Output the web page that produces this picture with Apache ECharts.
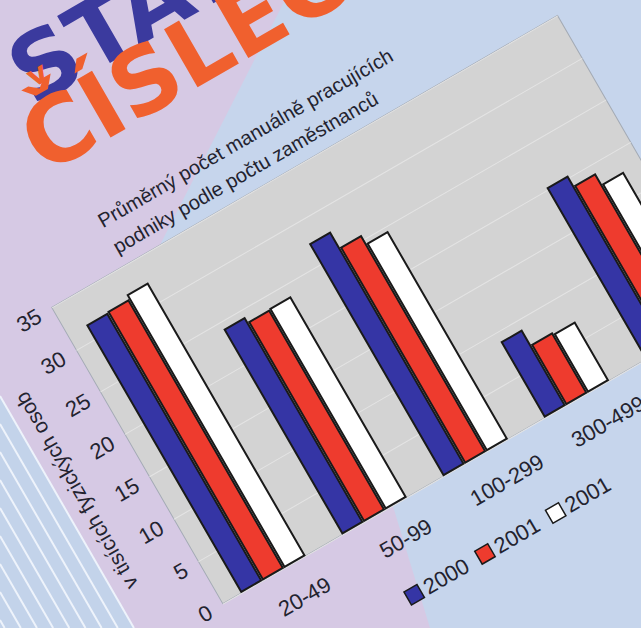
<!DOCTYPE html>
<html>
<head>
<meta charset="utf-8">
<script src="https://cdn.jsdelivr.net/npm/echarts@6/dist/echarts.min.js"></script>
<style>
html, body { margin: 0; padding: 0; width: 641px; height: 628px; overflow: hidden; background: #c6d5ec; }
#bg { position: absolute; left: 0; top: 0; width: 641px; height: 628px; }
/* the page is printed at an angle: the whole chart is turned 30deg */
#chart { position: absolute; left: -150.2px; top: 259.9px; width: 780px; height: 610px; transform-origin: 0 0; transform: rotate(-30deg); }
</style>
</head>
<body>
<div id="bg"></div>
<div id="chart"></div>
<script>
const categories = ['20-49', '50-99', '100-299', '300-499', '500 a více'];
const seriesKeys = ['s2000', 's2001a', 's2001b'];
const seriesLabels = ['2000', '2001', '2001'];
const values2000 = [31.7, 24.3, 27.5, 9.0, 20.3];
const values2001 = [31.8, 23.7, 25.6, 7.2, 19.1];
const values2001b = [32.3, 23.8, 24.6, 7.0, 17.8];
const yTicks = [0, 5, 10, 15, 20, 25, 30, 35];

const textColor = '#23232f';
const font = 'Liberation Sans, Arial, sans-serif';

// background of the magazine page
const bgChart = echarts.init(document.getElementById('bg'), null, { renderer: 'svg' });
const stripes = [];
for (let k = 0; k < 9; k++) {
  const a = -198 - 14 * k;
  stripes.push({
    type: 'line',
    shape: { x1: 0, y1: -2 * a, x2: (314 + a) / 0.866, y2: 628 },
    style: { stroke: '#eef3fb', lineWidth: 2 }
  });
}
bgChart.setOption({
  graphic: [
    { type: 'rect', shape: { x: 0, y: 0, width: 641, height: 628 }, style: { fill: '#c6d5ec' } },
    { type: 'polygon', shape: { points: [[0, 0], [285, 0], [160, 245], [385, 480], [430, 628], [0, 628]] }, style: { fill: '#d6c9e4' } },
    { type: 'polygon', shape: { points: [[0, 396], [134, 628], [0, 628]] }, style: { fill: '#c3d3ea' } },
    ...stripes,
    {
      type: 'text', x: 40, y: 120, rotation: Math.PI / 6,
      style: { text: 'STAT', fill: '#3b3a9e', fontSize: 92, fontWeight: 'bold', fontFamily: 'DejaVu Sans', textAlign: 'left', textVerticalAlign: 'bottom' }
    },
    {
      type: 'text', x: 52, y: 188, rotation: Math.PI / 6,
      style: { text: 'ČÍSLECH', fill: '#f0602e', fontSize: 92, fontWeight: 'bold', fontFamily: 'DejaVu Sans', textAlign: 'left', textVerticalAlign: 'bottom' }
    },
    {
      type: 'text', x: 36, y: 92, rotation: Math.PI / 6,
      style: { text: 'v', fill: '#f0602e', fontSize: 30, fontWeight: 'bold', fontFamily: 'DejaVu Sans', textAlign: 'left', textVerticalAlign: 'bottom' }
    }
  ]
});

const chart = echarts.init(document.getElementById('chart'), null, { renderer: 'svg' });
const seriesValues = [values2000, values2001, values2001b];
const seriesColors = ['#3535a5', '#ee3b2e', '#ffffff'];

const option = {
  animation: false,
  textStyle: { fontFamily: font, color: textColor },
  title: {
    text: 'Průměrný počet manuálně pracujících\npodniky podle počtu zaměstnanců',
    left: 230,
    top: 72,
    textStyle: { fontSize: 20, fontWeight: 'normal', color: textColor, lineHeight: 30, fontFamily: font }
  },
  legend: {
    data: seriesKeys,
    left: 308,
    top: 556,
    icon: 'rect',
    itemWidth: 15,
    itemHeight: 15,
    itemGap: 12,
    itemStyle: { borderColor: '#1a1a1a', borderWidth: 1.5 },
    textStyle: { fontSize: 22, color: textColor, fontFamily: font },
    formatter: name => seriesLabels[seriesKeys.indexOf(name)]
  },
  grid: {
    left: 151,
    top: 142,
    width: 584,
    height: 342,
    show: true,
    backgroundColor: '#d3d3d3',
    borderColor: '#a4abb5',
    borderWidth: 1
  },
  xAxis: {
    type: 'category',
    data: categories,
    axisLine: { show: false },
    axisTick: { show: false },
    axisLabel: { interval: 0, fontSize: 22, margin: 24, color: textColor, padding: [0, 0, 0, 32] }
  },
  yAxis: {
    type: 'value',
    min: yTicks[0],
    max: yTicks[yTicks.length - 1],
    interval: yTicks[1] - yTicks[0],
    name: 'v tisících fyzických osob',
    nameLocation: 'middle',
    nameRotate: 90,
    nameGap: 60,
    nameTextStyle: { fontSize: 21, color: textColor },
    axisLine: { show: false },
    axisTick: { show: false },
    axisLabel: { fontSize: 22, margin: 14, color: textColor },
    splitLine: { lineStyle: { color: '#e4e4e4', width: 1 } }
  },
  series: seriesKeys.map((key, i) => ({
    name: key,
    type: 'bar',
    data: seriesValues[i],
    barWidth: 25,
    barGap: '0%',
    itemStyle: { color: seriesColors[i], borderColor: '#1a1a1a', borderWidth: 2 }
  }))
};

chart.setOption(option);
</script>
</body>
</html>
